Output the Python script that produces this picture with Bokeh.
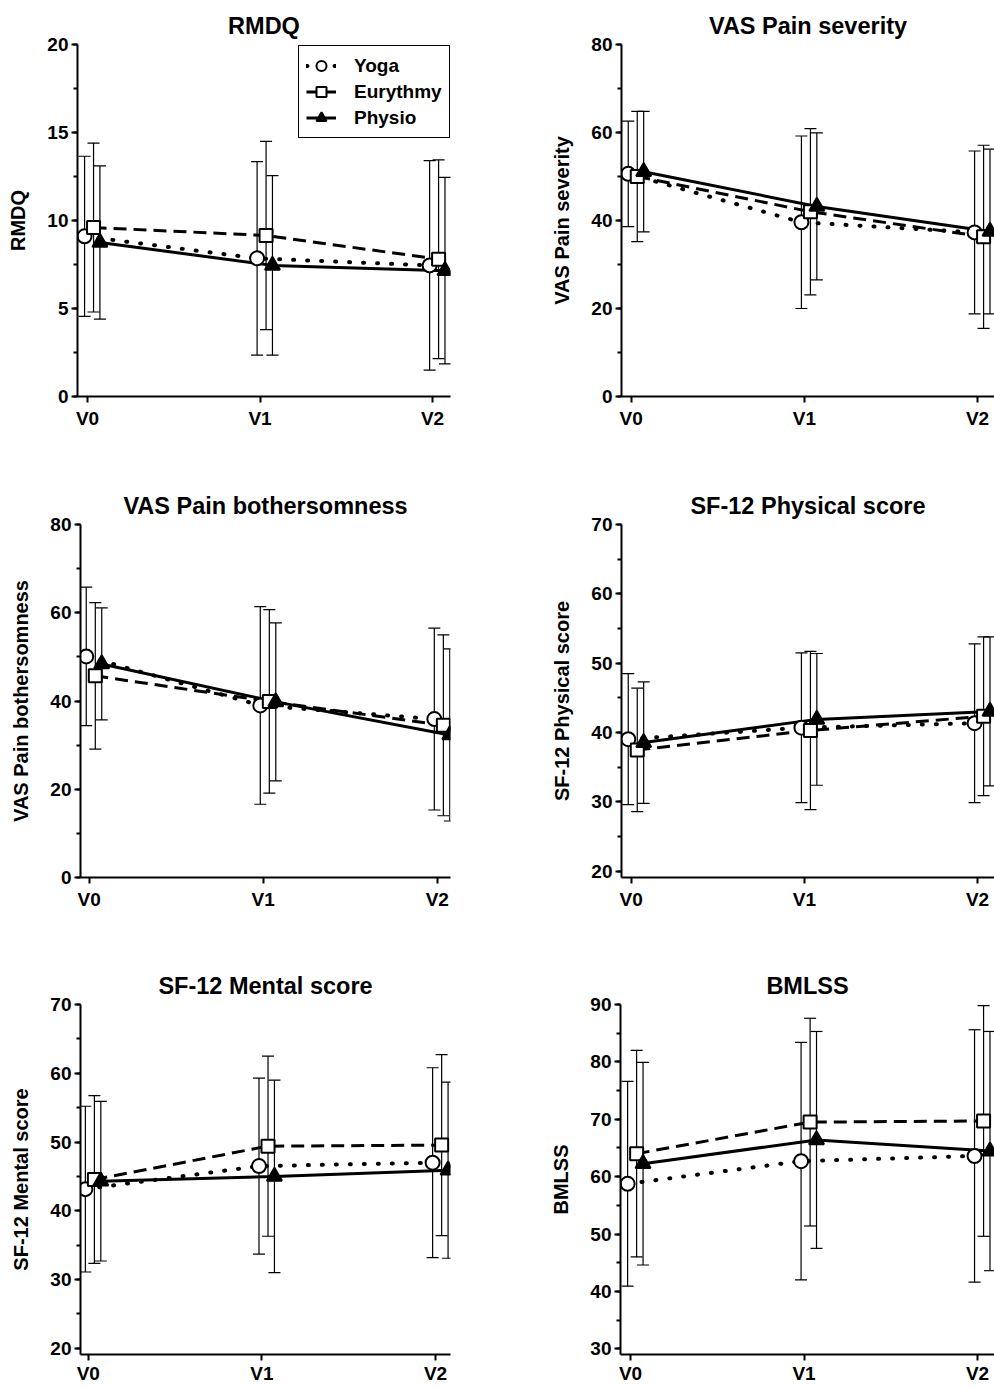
from bokeh.plotting import figure
from bokeh.models import (Range1d, SingleIntervalTicker, FixedTicker, Whisker, TeeHead,
                          ColumnDataSource, Legend, LegendItem)
from bokeh.layouts import column, row
from bokeh.embed import file_html
from bokeh.resources import INLINE

# ---------------- data ----------------
VISITS = ["V0", "V1", "V2"]
GROUPS = ["Yoga", "Eurythmy", "Physio"]

RMDQ_MEAN_YOGA = [9.1, 7.85, 7.45]
RMDQ_SD_YOGA = [4.55, 5.5, 5.95]
RMDQ_MEAN_EURY = [9.6, 9.15, 7.8]
RMDQ_SD_EURY = [4.8, 5.35, 5.65]
RMDQ_MEAN_PHYS = [8.75, 7.45, 7.15]
RMDQ_SD_PHYS = [4.35, 5.1, 5.3]

SEV_MEAN_YOGA = [50.6, 39.6, 37.3]
SEV_SD_YOGA = [12.0, 19.6, 18.5]
SEV_MEAN_EURY = [50.0, 42.0, 36.3]
SEV_SD_EURY = [14.8, 18.9, 20.8]
SEV_MEAN_PHYS = [51.1, 43.2, 37.5]
SEV_SD_PHYS = [13.7, 16.7, 18.7]

BOTH_MEAN_YOGA = [50.1, 39.0, 35.9]
BOTH_SD_YOGA = [15.7, 22.4, 20.6]
BOTH_MEAN_EURY = [45.7, 39.9, 34.5]
BOTH_SD_EURY = [16.6, 20.8, 20.5]
BOTH_MEAN_PHYS = [48.4, 39.8, 32.3]
BOTH_SD_PHYS = [12.7, 17.9, 19.5]

PHY_MEAN_YOGA = [39.05, 40.7, 41.35]
PHY_SD_YOGA = [9.45, 10.8, 11.45]
PHY_MEAN_EURY = [37.5, 40.3, 42.35]
PHY_SD_EURY = [8.9, 11.4, 11.45]
PHY_MEAN_PHYS = [38.55, 41.9, 43.05]
PHY_SD_PHYS = [8.75, 9.5, 10.75]

MEN_MEAN_YOGA = [43.15, 46.5, 47.0]
MEN_SD_YOGA = [12.05, 12.8, 13.8]
MEN_MEAN_EURY = [44.55, 49.4, 49.55]
MEN_SD_EURY = [12.2, 13.1, 13.15]
MEN_MEAN_PHYS = [44.3, 45.0, 45.9]
MEN_SD_PHYS = [11.6, 14.0, 12.8]

BML_MEAN_YOGA = [58.75, 62.7, 63.6]
BML_SD_YOGA = [17.85, 20.7, 22.0]
BML_MEAN_EURY = [64.0, 69.5, 69.7]
BML_SD_EURY = [18.0, 18.1, 20.1]
BML_MEAN_PHYS = [62.25, 66.4, 64.45]
BML_SD_PHYS = [17.65, 18.9, 20.85]

TITLES = ["RMDQ", "VAS Pain severity", "VAS Pain bothersomness",
          "SF-12 Physical score", "SF-12 Mental score", "BMLSS"]
YLABELS = ["RMDQ", "VAS Pain severity", "VAS Pain bothersomness",
           "SF-12 Physical score", "SF-12 Mental score", "BMLSS"]
Y_RANGES = [(0, 20), (0, 80), (0, 80), (19.1, 70), (19.1, 70), (29.0, 90)]
Y_INTERVALS = [5, 20, 20, 10, 10, 10]

MEANS = [
    [RMDQ_MEAN_YOGA, RMDQ_MEAN_EURY, RMDQ_MEAN_PHYS],
    [SEV_MEAN_YOGA, SEV_MEAN_EURY, SEV_MEAN_PHYS],
    [BOTH_MEAN_YOGA, BOTH_MEAN_EURY, BOTH_MEAN_PHYS],
    [PHY_MEAN_YOGA, PHY_MEAN_EURY, PHY_MEAN_PHYS],
    [MEN_MEAN_YOGA, MEN_MEAN_EURY, MEN_MEAN_PHYS],
    [BML_MEAN_YOGA, BML_MEAN_EURY, BML_MEAN_PHYS],
]
SDS = [
    [RMDQ_SD_YOGA, RMDQ_SD_EURY, RMDQ_SD_PHYS],
    [SEV_SD_YOGA, SEV_SD_EURY, SEV_SD_PHYS],
    [BOTH_SD_YOGA, BOTH_SD_EURY, BOTH_SD_PHYS],
    [PHY_SD_YOGA, PHY_SD_EURY, PHY_SD_PHYS],
    [MEN_SD_YOGA, MEN_SD_EURY, MEN_SD_PHYS],
    [BML_SD_YOGA, BML_SD_EURY, BML_SD_PHYS],
]

# ---------------- styles / layout ----------------
FONT = "Liberation Sans"
X_OFFSETS = [-0.017, 0.035, 0.072]
LINE_DASH = ["1 13", "13 7", "solid"]
LINE_CAP = ["round", "butt", "butt"]
LINE_W = [4, 3, 3]
MARKERS = ["circle", "square", "triangle"]
M_SIZE = [14, 13, 15]
M_FILL = ["white", "white", "black"]

# per panel: (fig width, fig height, border left, right, top, bottom, x range, x label standoff)
GEOM = [
    (541, 480, 77, 91, 44, 84, (-0.058, 2.104), 5),
    (453, 480, 80, 0, 44, 84, (-0.056, 2.098), 5),
    (541, 480, 80, 91, 44, 83, (-0.05, 2.076), 5),
    (453, 480, 80, 0, 44, 83, (-0.056, 2.098), 5),
    (541, 426, 80, 91, 44, 29, (-0.045, 2.086), 2),
    (453, 426, 79, 0, 44, 29, (-0.058, 2.098), 2),
]


def make_panel(i):
    w, h, bl, br, bt, bb, xr, xstand = GEOM[i]
    p = figure(width=w, height=h, x_range=Range1d(*xr), y_range=Range1d(*Y_RANGES[i]),
               output_backend="svg", toolbar_location=None, title=TITLES[i],
               min_border_left=bl, min_border_right=br, min_border_top=bt,
               min_border_bottom=bb)
    p.outline_line_color = None
    p.xgrid.visible = False
    p.ygrid.visible = False
    p.background_fill_color = "white"
    p.border_fill_color = "white"

    p.title.align = "center"
    p.title.text_font = FONT
    p.title.text_font_size = "23.5px"
    p.title.text_font_style = "bold"
    p.title.text_color = "black"
    p.title.standoff = 12

    for ax in (p.xaxis[0], p.yaxis[0]):
        ax.axis_line_width = 2
        ax.axis_line_color = "black"
        ax.major_tick_line_width = 2
        ax.major_tick_line_color = "black"
        ax.major_tick_in = 0
        ax.major_tick_out = 6
        ax.major_label_text_font = FONT
        ax.major_label_text_font_size = "19px"
        ax.major_label_text_font_style = "bold"
        ax.major_label_text_color = "black"

    xa = p.xaxis[0]
    xa.ticker = FixedTicker(ticks=[0, 1, 2])
    xa.major_label_overrides = {k: VISITS[k] for k in range(3)}
    xa.minor_tick_line_color = None
    xa.major_label_standoff = xstand

    ya = p.yaxis[0]
    ya.ticker = SingleIntervalTicker(interval=Y_INTERVALS[i], num_minor_ticks=2)
    ya.minor_tick_in = 0
    ya.minor_tick_out = 4
    ya.minor_tick_line_width = 2
    ya.minor_tick_line_color = "black"
    ya.major_label_standoff = 3
    ya.axis_label = YLABELS[i]
    ya.axis_label_text_font = FONT
    ya.axis_label_text_font_size = "20px"
    ya.axis_label_text_font_style = "bold"
    ya.axis_label_text_color = "black"
    ya.axis_label_standoff = 15

    sources = []
    for g in range(3):
        xs = [k + X_OFFSETS[g] for k in range(3)]
        m = MEANS[i][g]
        s = SDS[i][g]
        src = ColumnDataSource(dict(x=xs, y=m,
                                    upper=[a + b for a, b in zip(m, s)],
                                    lower=[a - b for a, b in zip(m, s)]))
        sources.append(src)
        wk = Whisker(source=src, base="x", upper="upper", lower="lower",
                     dimension="height", line_width=1.2, line_color="black",
                     upper_head=TeeHead(size=12, line_width=1.2, line_color="black"),
                     lower_head=TeeHead(size=12, line_width=1.2, line_color="black"))
        p.add_layout(wk)

    line_rs = []
    for g in range(3):
        lr = p.line("x", "y", source=sources[g], line_color="black",
                    line_width=LINE_W[g], line_dash=LINE_DASH[g], line_cap=LINE_CAP[g])
        line_rs.append(lr)
    mark_rs = []
    for g in range(3):
        mr = p.scatter("x", "y", source=sources[g], marker=MARKERS[g], size=M_SIZE[g],
                       fill_color=M_FILL[g], line_color="black", line_width=2)
        mark_rs.append(mr)

    if i == 0:
        items = [LegendItem(label=GROUPS[g], renderers=[line_rs[g], mark_rs[g]])
                 for g in range(3)]
        leg = Legend(items=items, location=(221, 258))
        leg.label_text_font = FONT
        leg.label_text_font_size = "19px"
        leg.label_text_font_style = "bold"
        leg.label_text_color = "black"
        leg.border_line_color = "black"
        leg.border_line_alpha = 1.0
        leg.border_line_width = 1.5
        leg.background_fill_alpha = 1.0
        leg.padding = 7
        leg.spacing = 1
        leg.glyph_width = 30
        leg.glyph_height = 25
        leg.label_standoff = 18
        leg.margin = 0
        p.add_layout(leg)
    return p


panels = [make_panel(i) for i in range(6)]
layout = column(row(panels[0], panels[1]), row(panels[2], panels[3]),
                row(panels[4], panels[5]))

open("out.html", "w").write(file_html(layout, INLINE))
